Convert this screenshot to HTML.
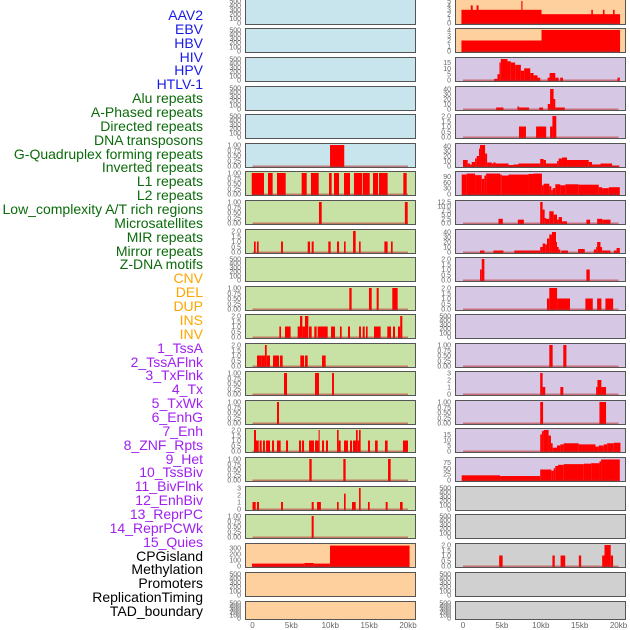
<!DOCTYPE html>
<html><head><meta charset="utf-8">
<style>
html,body{margin:0;padding:0;background:#fff;}
#wrap{position:relative;width:630px;height:630px;overflow:hidden;font-family:"Liberation Sans",sans-serif;}
.lab{position:absolute;right:427px;font-size:14px;line-height:14px;white-space:nowrap;}
svg{position:absolute;left:0;top:0;}
</style></head>
<body>
<div id="wrap">
<div id="labels"></div>
<svg id="chart" width="630" height="630"></svg>
</div>
<script>
// ---- data ----
const trackLabels = ["AAV2","EBV","HBV","HIV","HPV","HTLV-1","Alu repeats","A-Phased repeats","Directed repeats","DNA transposons","G-Quadruplex forming repeats","Inverted repeats","L1 repeats","L2 repeats","Low_complexity A/T rich regions","Microsatellites","MIR repeats","Mirror repeats","Z-DNA motifs","CNV","DEL","DUP","INS","INV","1_TssA","2_TssAFlnk","3_TxFlnk","4_Tx","5_TxWk","6_EnhG","7_Enh","8_ZNF_Rpts","9_Het","10_TssBiv","11_BivFlnk","12_EnhBiv","13_ReprPC","14_ReprPCWk","15_Quies","CPGisland","Methylation","Promoters","ReplicationTiming","TAD_boundary"];
const labelColors = {virus:"#1a1ae6",repeat:"#0b6b0b",sv:"#ffa500",chrom:"#a020f0",other:"#000"};
const xTicks = [0,5,10,15,20];
const xTickLabels = ["0","5kb","10kb","15kb","20kb"];
const T500 = ["0","100","200","300","400","500"];
const T1 = ["0.00","0.25","0.50","0.75","1.00"];
const T2 = ["0.0","0.5","1.0","1.5","2.0"];
const leftMax = [500,500,500,500,500,1,1,1,2,500,1,2,2,1,1,2,1,3,1,350,500,500];
const leftTicks = [T500,T500,T500,T500,T500,T1,T1,T1,T2,T500,T1,T2,T2,T1,T1,T2,T1,["0","1","2","3"],T1,["0","100","200","300"],T500,T500];
const rightMax = [5,4,18,42,2,42,108,12.5,42,2,2,500,1,3,1,19,90,500,500,2,500,500];
const rightTicks = [["0","1","2","3","4","5"],["0","1","2","3","4"],["0","5","10","15"],["0","10","20","30","40"],T2,["0","10","20","30","40"],["0","30","60","90"],["0.0","2.5","5.0","7.5","10.0","12.5"],["0","10","20","30","40"],T2,T2,T500,T1,["0","1","2","3"],T1,["0","5","10","15"],["0","25","50","75"],T500,T500,T2,T500,T500];
const leftBg = ["#c8e4ec","#c8e4ec","#c8e4ec","#c8e4ec","#c8e4ec","#c8e4ec","#c8e2a6","#c8e2a6","#c8e2a6","#c8e2a6","#c8e2a6","#c8e2a6","#c8e2a6","#c8e2a6","#c8e2a6","#c8e2a6","#c8e2a6","#c8e2a6","#c8e2a6","#fdd09e","#fdd09e","#fdd09e"];
const rightBg = ["#fdd09e","#fdd09e","#d6c8e4","#d6c8e4","#d6c8e4","#d6c8e4","#d6c8e4","#d6c8e4","#d6c8e4","#d6c8e4","#d6c8e4","#d6c8e4","#d6c8e4","#d6c8e4","#d6c8e4","#d6c8e4","#d6c8e4","#d0d0d0","#d0d0d0","#d0d0d0","#d0d0d0","#d0d0d0"];
// bars: [startKb, endKb, value]
const leftBars = [
 [],[],[],[],[],
 [[9.97,11.8,1]],
 [[-0.1,1.48,1],[1.99,2.59,1],[3.15,4.27,1],[6.32,6.97,1],[7.52,8.51,1],[9.84,10.18,1],[10.48,11.13,1],[11.77,12.54,1],[13.05,14.08,1],[14.17,15.07,1],[15.5,16.14,1],[16.27,17.38,1],[19.4,19.83,1]],
 [[8.55,8.9,1],[19.6,19.96,1]],
 [[0.19,0.41,1],[0.58,0.79,1],[3.67,3.92,1],[7.1,7.4,1],[7.61,7.87,1],[9.75,10.05,1],[10.87,11.13,1],[11.77,11.98,1],[12.93,13.27,2],[13.7,13.91,1],[16.96,17.38,1],[17.81,18.03,1]],
 [],
 [[12.45,12.75,1],[14.98,15.33,1],[15.97,16.23,1],[17.98,18.67,1]],
 [[3.45,3.67,1],[4.18,4.9,1],[5.81,6.11,1],[6.11,6.41,2],[6.41,6.75,1],[6.75,7.18,2],[7.27,7.61,1],[7.95,8.25,1],[8.38,9.67,1],[10.1,10.61,1],[11.25,11.47,1],[12.28,12.54,1],[13.7,13.95,1],[14.17,14.43,1],[14.6,14.81,1],[15.63,16.48,1],[17.34,17.81,1],[18.07,18.33,1],[18.71,19.0,1],[19.0,19.27,2]],
 [[0.58,1.18,1],[1.18,1.6,1],[1.6,1.83,2],[1.83,2.25,1],[2.64,3.41,1],[3.54,3.88,1],[6.15,6.63,1],[6.75,7.1,1],[8.94,9.41,1]],
 [[4.05,4.44,1],[8.04,8.55,1],[10.23,10.48,1]],
 [[3.15,3.41,1]],
 [[0.19,0.45,2],[0.45,0.8,1],[0.92,1.18,1],[1.35,1.6,1],[1.74,2.25,1],[2.51,2.77,1],[3.15,3.62,1],[4.31,4.57,1],[5.98,6.24,1],[6.37,6.63,1],[7.27,7.91,1],[8.04,8.5,1],[8.5,8.64,2],[8.94,9.2,1],[9.45,9.71,1],[10.87,11.08,2],[11.08,11.34,1],[11.77,12.28,1],[12.54,12.8,1],[12.93,13.31,1],[13.31,13.53,2],[13.53,13.7,1],[13.7,13.91,2],[14.85,15.11,1],[15.76,16.1,1],[17.04,17.38,1],[19.35,20.0,1]],
 [[7.31,7.61,1],[11.68,11.98,1],[17.43,17.77,1]],
 [[0,0.41,1],[0.58,0.84,1],[3.67,3.92,1],[7.61,7.87,1],[8.3,8.8,1],[10.87,11.08,1],[11.77,11.98,2.2],[12.8,13.27,1],[13.7,13.91,3],[14.85,15.07,1],[17.13,17.38,1],[18.97,19.31,1]],
 [[7.61,7.87,1]],
 [[-0.06,6.67,40],[6.67,7.87,50],[7.87,9.97,40],[9.97,20.2,340]],
 [],[]
];
const rightBars = [
 [[-0.2,10.1,3],[1.0,1.25,4],[1.75,2.0,4],[7.5,7.65,5],[10.1,20.2,2],[16.5,16.7,3],[18,18.2,3],[19.3,19.5,3]],
 [[-0.2,10.1,2],[10.1,20.2,4]],
 [[4.0,4.43,1],[4.43,4.69,5],[4.69,4.86,15],[4.86,5.72,18],[5.72,6.15,16],[6.15,6.71,15],[6.71,7.44,13],[7.44,7.87,8],[7.87,8.65,10],[8.65,9.08,6],[9.08,9.59,4],[9.59,9.94,2],[10.88,11.14,2],[11.14,11.87,6],[11.87,12.3,2],[12.5,12.86,2],[19.87,20.17,2]],
 [[4.26,5.2,3],[7.0,7.2,5],[7.2,8.5,3],[9.8,10.3,3],[10.9,11.2,10],[11.2,11.65,40],[11.65,11.87,20],[11.87,13.1,3]],
 [[7.2,8.1,1],[9.4,10.7,1],[11.2,11.5,1],[11.5,12.0,2]],
 [[0,0.6,12],[0.6,0.9,5],[0.9,1.12,3],[1.12,1.55,8],[1.55,1.76,15],[1.76,2.06,20],[2.06,2.19,35],[2.19,2.84,42],[2.84,3.1,25],[3.1,3.7,7],[3.7,3.91,5],[3.91,4.2,7],[4.2,5.85,5],[5.85,6.5,2],[6.5,7.14,3],[7.14,9.93,5],[9.93,10.37,14],[10.37,10.67,12],[10.67,11.44,5],[11.44,12.1,5],[12.1,12.3,10],[12.3,12.73,15],[12.73,13.38,17],[13.38,14.02,12],[14.02,16.17,12],[16.17,16.6,8],[16.6,17.68,3],[17.68,19.18,5],[19.18,20.1,1]],
 [[-0.17,0.47,100],[0.47,1.55,105],[1.55,2.41,97],[2.41,2.75,78],[2.75,2.97,95],[2.97,4.77,105],[4.77,4.99,100],[4.99,5.85,95],[5.85,8.43,100],[8.43,9.07,103],[9.07,10.15,105],[10.15,10.37,45],[10.37,11.1,53],[11.1,11.36,40],[11.36,11.53,20],[11.53,11.87,30],[11.87,12.52,50],[12.52,13.16,45],[13.16,14.88,50],[14.88,17.46,48],[17.46,17.89,35],[17.89,18.75,30],[18.75,20.17,35]],
 [[4.56,5.12,2.5],[7.05,7.83,2],[9.93,10.24,12.5],[10.24,10.5,8],[10.5,10.67,3],[10.67,11.1,2.5],[11.1,11.66,7],[11.66,12.09,5],[12.09,12.3,2],[12.3,12.73,3.5],[12.73,13.38,1],[15.87,16.35,2],[17.25,17.9,2.5],[17.9,18.97,2]],
 [[2.19,2.75,3],[3.91,5.2,3],[6.6,9.93,3],[9.93,10.24,10],[10.24,10.58,17],[10.58,10.8,15],[10.8,11.1,27],[11.1,11.44,35],[11.44,11.96,40],[11.96,12.09,20],[12.09,12.3,10],[12.3,12.52,5],[12.64,13.5,3],[14.8,15.66,6],[16.82,17.12,5],[17.12,17.25,10],[17.25,17.68,20],[17.68,17.89,10],[17.89,18.97,3],[19.4,19.75,3],[19.75,20.17,8]],
 [[2.19,2.41,1],[2.41,2.75,2],[15.87,16.3,1]],
 [[10.8,11.1,1],[11.1,12.1,2],[12.1,13.76,1],[15.74,16.69,1],[17.25,17.8,1],[18.32,19.31,1]],
 [],
 [[11.1,11.53,1],[12.9,13.3,1]],
 [[9.93,10.24,3],[10.24,10.58,1],[12.52,12.9,1],[17.12,17.29,1],[17.29,17.8,2],[17.8,18.4,1]],
 [[9.93,10.3,1],[17.55,18.4,1]],
 [[9.93,10.15,15],[10.15,10.37,18],[10.37,11.01,19],[11.01,11.31,14],[11.31,11.53,7],[11.53,12.09,3],[12.09,12.52,5],[12.52,12.95,6],[12.95,14.88,7],[14.88,17.04,6],[17.04,17.46,4],[17.46,18.11,5],[18.11,18.54,6],[18.54,19.4,7],[19.4,20.25,7.5]],
 [[-0.17,4.77,20],[4.77,9.93,17],[9.93,11.36,45],[11.36,11.66,40],[11.66,11.87,50],[11.87,12.22,60],[12.22,12.95,65],[12.95,15.53,68],[15.53,16.48,70],[16.48,17.55,72],[17.55,17.76,80],[17.76,20.17,88]],
 [],[],
 [[4.65,5.1,1],[11.5,11.8,1],[12.55,13.15,1],[14.9,15.2,1],[17.9,18.2,1],[18.2,19.0,2],[19.0,19.3,1]],
 [],[]
];
// ---- layout ----
const panelTops = [-1,28,57,86,114,143,171,200,229,257,286,314,343,371,400,428,457,486,514,543,572,601];
const panelH = [26,25,25,25,25,25,25,25,25,25,25,25,25,25,25,25,25,25,25,25,25,19];
const cols = [{x:245,w:171,zero:252.5},{x:455,w:171,zero:463}];
const pxPerKb = 7.775;
const NS = "http://www.w3.org/2000/svg";
const svg = document.getElementById("chart");
function xScale(col, kb){ return cols[col].zero + kb*pxPerKb; }
function yScale(p, v, max){ const b = panelTops[p]+panelH[p]-2, t = panelTops[p]+2; return b - (v/max)*(b-t); }
function mk(tag, attrs){ const e=document.createElementNS(NS,tag); for(const k in attrs) e.setAttribute(k,attrs[k]); svg.appendChild(e); return e; }

// labels
const labDiv = document.getElementById("labels");
trackLabels.forEach((t,i)=>{
  const d=document.createElement("div");
  d.className="lab";
  d.textContent=t;
  let c = i<6?labelColors.virus : i<19?labelColors.repeat : i<24?labelColors.sv : i<39?labelColors.chrom : labelColors.other;
  d.style.color=c;
  d.style.top=(8+i*13.86)+"px";
  
  
  labDiv.appendChild(d);
});

[0,1].forEach(col=>{
  const maxes = col===0?leftMax:rightMax, ticks = col===0?leftTicks:rightTicks, bars = col===0?leftBars:rightBars, bgs = col===0?leftBg:rightBg;
  panelTops.forEach((top,p)=>{
    const bg = mk("rect",{x:cols[col].x,y:top,width:cols[col].w,height:panelH[p],fill:bgs[p]});
    
    
    // ticks
    const tl = ticks[p], mx = maxes[p];
    tl.forEach((lbl,k)=>{
      const v = parseFloat(lbl);
      const t = mk("text",{x:cols[col].x-4,y:yScale(p,v,mx)+2.5,"font-size":"7","fill":"#666","text-anchor":"end","font-family":"Liberation Sans, sans-serif"});
      t.textContent = lbl;
      
      
    });
    // bars
    bars[p].forEach(b=>{
      const x0 = xScale(col,b[0]), x1 = xScale(col,b[1]);
      const y = yScale(p,b[2],mx), yb = yScale(p,0,mx);
      const r = mk("rect",{x:x0,y:y,width:Math.max(1,x1-x0),height:yb-y+1,fill:"#ff0000"});
      
      
    });
    // baseline
    if (p!==20 && p!==21 && !(ticks[p]===T500 && bars[p].length===0)) {
      const bl = mk("rect",{x:xScale(col,0),y:yScale(p,0,mx)-0.5,width:20*pxPerKb,height:1.5,fill:"rgba(190,40,40,0.55)"});
      
      
    }
    const br = mk("rect",{x:cols[col].x+0.5,y:top+0.5,width:cols[col].w-1,height:panelH[p]-1,fill:"none",stroke:"#555","stroke-width":"1"});
    
    
  });
  xTicks.forEach((kb,k)=>{
    const t = mk("text",{x:xScale(col,kb),y:628,"font-size":"8","fill":"#666","text-anchor":"middle","font-family":"Liberation Sans, sans-serif"});
    t.textContent = xTickLabels[k];
    
    
  });
});
</script>
</body></html>
